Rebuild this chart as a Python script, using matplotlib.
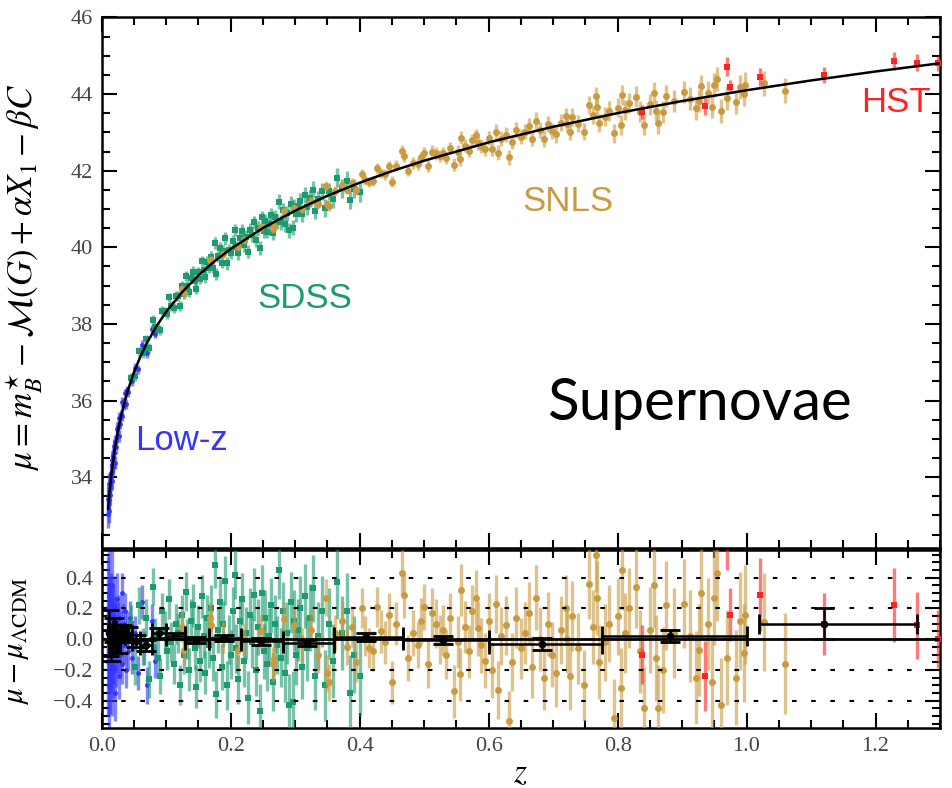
import matplotlib.pyplot as plt
from matplotlib.ticker import MultipleLocator

plt.rcParams['font.family'] = 'Liberation Serif'
plt.rcParams['mathtext.fontset'] = 'stix'

# best-fit LCDM distance modulus
curve_z = [0.01, 0.012, 0.015, 0.02, 0.025, 0.03, 0.04, 0.05, 0.06, 0.07,
           0.085, 0.1, 0.125, 0.15, 0.175, 0.2, 0.25, 0.3, 0.35, 0.4,
           0.45, 0.5, 0.6, 0.7, 0.8, 0.9, 1.0, 1.1, 1.2, 1.3]
curve_mu = [33.175, 33.574, 34.064, 34.697, 35.190, 35.594, 36.234, 36.735, 37.146, 37.496,
            37.940, 38.315, 38.835, 39.266, 39.635, 39.956, 40.502, 40.955, 41.344, 41.685,
            41.988, 42.261, 42.739, 43.147, 43.503, 43.818, 44.100, 44.356, 44.590, 44.805]

# Low-z sample
lowz_z = [0.0100, 0.0102, 0.0108, 0.0112, 0.0118, 0.0121, 0.0126, 0.0131, 0.0135, 0.0142,
          0.0148, 0.0153, 0.0158, 0.0164, 0.0170, 0.0176, 0.0183, 0.0190, 0.0196, 0.0203,
          0.0212, 0.0221, 0.0230, 0.0242, 0.0253, 0.0264, 0.0275, 0.0287, 0.0298, 0.0310,
          0.0322, 0.0335, 0.0348, 0.0362, 0.0378, 0.0395, 0.0412, 0.0440, 0.0475, 0.0520,
          0.0570, 0.0620, 0.0660, 0.0710, 0.0780, 0.0830]
lowz_mu = [33.03, 33.42, 33.39, 33.12, 33.81, 33.54, 33.80, 33.54, 33.85, 34.12,
           33.91, 34.45, 33.89, 34.32, 34.26, 34.56, 34.32, 34.80, 34.63, 34.38,
           34.92, 34.78, 35.26, 35.06, 35.30, 35.07, 35.54, 35.39, 35.62, 35.97,
           35.59, 35.94, 35.88, 36.19, 35.91, 36.27, 36.22, 36.59, 36.50, 36.86,
           36.81, 37.46, 37.30, 37.23, 37.87, 37.74]
lowz_res = [-0.15, 0.20, 0.05, -0.30, 0.28, -0.05, 0.12, -0.22, 0.02, 0.18,
            -0.12, 0.35, -0.28, 0.06, -0.08, 0.15, -0.18, 0.22, -0.02, -0.35,
            0.10, -0.14, 0.26, -0.06, 0.08, -0.24, 0.14, -0.10, 0.04, 0.30,
            -0.16, 0.10, -0.04, 0.18, -0.20, 0.06, -0.08, 0.14, -0.12, 0.04,
            -0.22, 0.24, -0.06, -0.30, 0.12, -0.14]
lowz_err = [0.35, 0.34, 0.32, 0.31, 0.30, 0.29, 0.28, 0.27, 0.26, 0.25,
            0.24, 0.23, 0.22, 0.22, 0.21, 0.20, 0.20, 0.19, 0.19, 0.18,
            0.18, 0.17, 0.17, 0.16, 0.16, 0.15, 0.15, 0.14, 0.14, 0.13,
            0.13, 0.13, 0.12, 0.12, 0.12, 0.12, 0.12, 0.11, 0.11, 0.11,
            0.11, 0.11, 0.11, 0.12, 0.11, 0.11]

# SDSS sample
sdss_z = [0.045, 0.052, 0.058, 0.064, 0.069, 0.074, 0.079, 0.083, 0.087, 0.090,
          0.094, 0.098, 0.101, 0.105, 0.108, 0.112, 0.115, 0.118, 0.121, 0.124,
          0.127, 0.130, 0.133, 0.136, 0.139, 0.142, 0.145, 0.147, 0.150, 0.153,
          0.156, 0.158, 0.161, 0.164, 0.166, 0.169, 0.172, 0.175, 0.177, 0.180,
          0.183, 0.186, 0.188, 0.191, 0.194, 0.197, 0.200, 0.203, 0.206, 0.209,
          0.212, 0.215, 0.218, 0.221, 0.224, 0.227, 0.230, 0.233, 0.236, 0.239,
          0.242, 0.245, 0.248, 0.251, 0.254, 0.257, 0.260, 0.263, 0.266, 0.269,
          0.272, 0.275, 0.278, 0.281, 0.284, 0.287, 0.290, 0.293, 0.296, 0.299,
          0.302, 0.305, 0.308, 0.311, 0.315, 0.319, 0.323, 0.327, 0.331, 0.336,
          0.341, 0.346, 0.352, 0.358, 0.365, 0.372, 0.380, 0.385, 0.392, 0.400]
sdss_mu = [36.60, 36.64, 37.29, 37.24, 37.60, 37.37, 38.11, 37.91, 37.88, 37.83,
           38.35, 38.33, 38.26, 38.69, 38.47, 38.42, 38.74, 38.74, 38.46, 38.98,
           38.77, 39.24, 38.98, 38.83, 39.21, 39.36, 39.13, 38.91, 39.35, 39.17,
           39.64, 39.41, 39.22, 39.62, 39.47, 39.75, 39.47, 40.11, 39.30, 39.76,
           39.98, 39.60, 39.91, 40.23, 39.58, 39.92, 39.86, 40.17, 40.45, 40.01,
           39.84, 40.25, 40.43, 40.06, 40.27, 39.89, 40.46, 40.31, 40.65, 40.19,
           40.50, 39.98, 40.78, 40.43, 40.68, 40.41, 40.62, 40.85, 40.38, 40.79,
           40.67, 41.19, 40.65, 40.97, 40.60, 40.89, 40.44, 41.14, 40.51, 41.07,
           40.87, 41.06, 41.22, 40.87, 41.36, 41.05, 41.28, 41.50, 40.96, 41.26,
           41.46, 41.02, 41.46, 41.26, 41.82, 41.54, 41.73, 41.24, 41.53, 41.44]
sdss_res = [0.10, -0.18, 0.22, -0.05, 0.14, -0.26, 0.34, 0.02, -0.12, -0.24,
            0.18, 0.06, -0.08, 0.26, -0.02, -0.16, 0.10, 0.04, -0.30, 0.16,
            -0.10, 0.31, 0.00, -0.20, 0.12, 0.22, -0.06, -0.31, 0.08, -0.14,
            0.28, 0.02, -0.22, 0.14, -0.04, 0.20, -0.12, 0.48, -0.36, 0.06,
            0.24, -0.18, 0.10, 0.38, -0.30, 0.00, -0.10, 0.18, 0.42, -0.06,
            -0.26, 0.12, 0.26, -0.14, 0.04, -0.38, 0.16, -0.02, 0.29, -0.20,
            0.08, -0.47, 0.30, -0.08, 0.14, -0.16, 0.02, 0.22, -0.28, 0.10,
            -0.04, 0.45, -0.12, 0.18, -0.22, 0.04, -0.43, 0.24, -0.41, 0.12,
            -0.10, 0.06, 0.20, -0.18, 0.28, -0.06, 0.14, 0.33, -0.24, 0.02,
            0.18, -0.30, 0.10, -0.14, 0.37, 0.04, 0.18, -0.35, -0.10, -0.24]
sdss_err = [0.12, 0.12, 0.12, 0.12, 0.12, 0.12, 0.12, 0.12, 0.12, 0.12,
            0.12, 0.12, 0.12, 0.13, 0.13, 0.13, 0.13, 0.13, 0.13, 0.13,
            0.13, 0.13, 0.13, 0.14, 0.14, 0.14, 0.14, 0.14, 0.14, 0.14,
            0.14, 0.14, 0.14, 0.15, 0.15, 0.15, 0.15, 0.15, 0.15, 0.15,
            0.15, 0.15, 0.15, 0.16, 0.16, 0.16, 0.16, 0.16, 0.16, 0.16,
            0.16, 0.16, 0.17, 0.17, 0.17, 0.17, 0.17, 0.17, 0.17, 0.17,
            0.18, 0.18, 0.18, 0.18, 0.18, 0.18, 0.18, 0.18, 0.19, 0.19,
            0.19, 0.19, 0.19, 0.19, 0.19, 0.20, 0.20, 0.20, 0.20, 0.20,
            0.20, 0.20, 0.21, 0.21, 0.21, 0.21, 0.22, 0.22, 0.22, 0.22,
            0.23, 0.23, 0.23, 0.24, 0.24, 0.24, 0.25, 0.25, 0.25, 0.26]

# SNLS sample
snls_z = [0.125, 0.128, 0.168, 0.170, 0.188, 0.211, 0.221, 0.247, 0.265, 0.268,
          0.283, 0.298, 0.310, 0.324, 0.335, 0.348, 0.350, 0.352, 0.362, 0.372,
          0.380, 0.388, 0.395, 0.404, 0.408, 0.414, 0.420, 0.427, 0.433, 0.440,
          0.446, 0.450, 0.457, 0.466, 0.469, 0.475, 0.482, 0.490, 0.495, 0.500,
          0.506, 0.513, 0.518, 0.524, 0.530, 0.534, 0.540, 0.547, 0.552, 0.555,
          0.557, 0.563, 0.570, 0.575, 0.580, 0.583, 0.588, 0.594, 0.600, 0.606,
          0.611, 0.614, 0.620, 0.627, 0.632, 0.637, 0.643, 0.650, 0.656, 0.663,
          0.668, 0.673, 0.680, 0.686, 0.692, 0.698, 0.705, 0.712, 0.720, 0.722,
          0.727, 0.730, 0.738, 0.748, 0.756, 0.762, 0.766, 0.768, 0.771, 0.780,
          0.787, 0.795, 0.800, 0.805, 0.807, 0.812, 0.818, 0.828, 0.835, 0.841,
          0.850, 0.857, 0.859, 0.862, 0.870, 0.875, 0.888, 0.903, 0.913, 0.921,
          0.926, 0.929, 0.940, 0.947, 0.949, 0.954, 0.960, 0.970, 0.983, 0.990,
          0.996, 0.998, 1.027, 1.059]
snls_mu = [38.92, 38.82, 39.68, 39.66, 39.82, 40.02, 40.20, 40.52, 40.49, 40.55,
           40.94, 41.03, 41.00, 41.21, 41.13, 41.60, 41.12, 41.08, 41.47, 41.62,
           41.50, 41.69, 41.50, 41.91, 41.75, 41.71, 41.73, 42.06, 41.94, 41.91,
           42.12, 41.71, 42.13, 42.51, 42.38, 42.00, 42.20, 42.17, 42.35, 42.47,
           42.13, 42.50, 42.45, 42.38, 42.47, 42.33, 42.60, 42.15, 42.50, 42.30,
           42.86, 42.65, 42.52, 42.80, 42.92, 42.73, 42.64, 42.57, 42.86, 42.56,
           43.02, 42.47, 42.84, 42.94, 42.35, 42.75, 43.06, 42.89, 43.02, 43.17,
           42.84, 43.31, 43.07, 42.84, 43.22, 43.04, 42.95, 43.25, 43.42, 43.23,
           43.01, 43.41, 43.23, 43.02, 43.71, 43.45, 43.94, 43.66, 43.25, 43.41,
           43.56, 42.98, 43.65, 43.20, 43.98, 43.58, 43.76, 43.93, 43.54, 43.19,
           43.73, 44.04, 43.57, 43.25, 43.53, 43.96, 43.82, 44.06, 43.88, 43.63,
           43.82, 44.20, 44.03, 43.67, 44.23, 44.40, 43.56, 43.90, 43.80, 44.19,
           44.00, 44.25, 44.28, 44.09]
snls_res = [0.08, -0.07, 0.14, 0.09, 0.01, -0.07, 0.00, 0.05, -0.16, -0.13,
            0.13, 0.09, -0.04, 0.06, -0.10, 0.27, -0.22, -0.28, 0.04, 0.12,
            -0.05, 0.08, -0.15, 0.20, 0.02, -0.06, -0.08, 0.21, 0.05, -0.02,
            0.16, -0.28, 0.10, 0.43, 0.29, -0.12, 0.04, -0.04, 0.12, 0.21,
            -0.16, 0.17, 0.10, 0.00, 0.06, -0.10, 0.14, -0.34, -0.02, -0.23,
            0.32, 0.08, -0.08, 0.18, 0.27, 0.07, -0.04, -0.14, 0.12, -0.20,
            0.23, -0.33, 0.02, 0.09, -0.53, -0.15, 0.14, -0.06, 0.04, 0.17,
            -0.18, 0.27, 0.00, -0.25, 0.10, -0.10, -0.22, 0.06, 0.20, 0.00,
            -0.24, 0.15, -0.06, -0.30, 0.36, 0.08, 0.55, 0.27, -0.15, -0.02,
            0.10, -0.51, 0.15, -0.32, 0.45, 0.04, 0.20, 0.34, -0.08, -0.45,
            0.06, 0.35, -0.12, -0.45, -0.20, 0.22, 0.04, 0.23, 0.02, -0.25,
            -0.07, 0.30, 0.10, -0.28, 0.27, 0.43, -0.43, -0.12, -0.25, 0.12,
            -0.09, 0.16, 0.11, -0.16]
snls_err = [0.10, 0.10, 0.10, 0.10, 0.10, 0.10, 0.10, 0.11, 0.11, 0.11,
            0.11, 0.11, 0.11, 0.12, 0.12, 0.12, 0.12, 0.12, 0.12, 0.12,
            0.12, 0.13, 0.13, 0.13, 0.13, 0.13, 0.13, 0.13, 0.14, 0.14,
            0.14, 0.14, 0.14, 0.15, 0.15, 0.15, 0.15, 0.15, 0.15, 0.15,
            0.16, 0.16, 0.16, 0.16, 0.16, 0.16, 0.16, 0.17, 0.17, 0.17,
            0.17, 0.17, 0.17, 0.17, 0.18, 0.18, 0.18, 0.18, 0.18, 0.18,
            0.19, 0.19, 0.19, 0.19, 0.19, 0.19, 0.20, 0.20, 0.20, 0.20,
            0.20, 0.21, 0.21, 0.21, 0.21, 0.21, 0.22, 0.22, 0.22, 0.22,
            0.22, 0.23, 0.23, 0.23, 0.23, 0.24, 0.24, 0.24, 0.24, 0.25,
            0.25, 0.25, 0.25, 0.26, 0.26, 0.26, 0.26, 0.27, 0.27, 0.27,
            0.28, 0.28, 0.28, 0.28, 0.28, 0.29, 0.29, 0.29, 0.30, 0.30,
            0.30, 0.30, 0.30, 0.30, 0.31, 0.31, 0.31, 0.31, 0.31, 0.32,
            0.32, 0.32, 0.32, 0.33]

# HST sample
hst_z = [0.838, 0.935, 0.969, 0.974, 1.021, 1.120, 1.229, 1.264, 1.297]
hst_mu = [43.53, 43.68, 44.72, 44.19, 44.45, 44.50, 44.87, 44.82, 44.80]
hst_res = [-0.10, -0.24, 0.70, 0.16, 0.29, 0.10, 0.22, 0.09, 0.00]
hst_err = [0.19, 0.23, 0.25, 0.17, 0.24, 0.20, 0.24, 0.22, 0.19]

# binned residuals
bin_z = [0.0114, 0.0149, 0.0193, 0.0248, 0.0317, 0.0411, 0.0531, 0.0685, 0.0883, 0.1136,
         0.1468, 0.1899, 0.2464, 0.3185, 0.4106, 0.5298, 0.6829, 0.8809, 1.120]
bin_lo = [0.010, 0.013, 0.017, 0.022, 0.028, 0.036, 0.047, 0.060, 0.078, 0.100,
          0.129, 0.167, 0.216, 0.281, 0.361, 0.467, 0.601, 0.776, 1.020]
bin_hi = [0.013, 0.017, 0.022, 0.028, 0.036, 0.047, 0.060, 0.078, 0.100, 0.129,
          0.167, 0.216, 0.281, 0.361, 0.467, 0.601, 0.776, 1.000, 1.265]
bin_res = [0.04, -0.04, 0.06, -0.02, 0.04, 0.03, -0.01, -0.04, 0.04, 0.02,
           -0.005, 0.005, -0.015, -0.025, 0.015, -0.005, -0.03, 0.02, 0.10]
bin_err = [0.15, 0.10, 0.08, 0.07, 0.05, 0.05, 0.04, 0.035, 0.03, 0.02,
           0.02, 0.02, 0.02, 0.02, 0.025, 0.025, 0.04, 0.04, 0.10]

c_lowz = '#3535ff'
c_sdss = '#1c9a70'
c_snls = '#c99b40'
c_hst = '#ff2424'

samples = [
    (lowz_z, lowz_mu, lowz_res, lowz_err, c_lowz, 'o', 3.5),
    (sdss_z, sdss_mu, sdss_res, sdss_err, c_sdss, 's', 4.5),
    (snls_z, snls_mu, snls_res, snls_err, c_snls, 'o', 5.0),
    (hst_z, hst_mu, hst_res, hst_err, c_hst, 's', 4.0),
]

fig = plt.figure(figsize=(9.52, 7.88), dpi=100)
ax1 = fig.add_axes([0.1068, 0.3046, 0.8806, 0.6732])
ax2 = fig.add_axes([0.1068, 0.0758, 0.8806, 0.2262])

for i, (z, mu, res, err, col, mk, ms) in enumerate(samples):
    zo = 2 + i
    ax1.errorbar(z, mu, yerr=err, fmt='none', ecolor=col, elinewidth=2.4,
                 alpha=0.6, zorder=zo)
    ax1.plot(z, mu, mk, color=col, ms=ms, mew=0, zorder=zo)
    ax2.errorbar(z, res, yerr=err, fmt='none', ecolor=col, elinewidth=2.4,
                 alpha=0.6, zorder=zo)
    ax2.plot(z, res, mk, color=col, ms=ms, mew=0, zorder=zo)

ax1.plot(curve_z, curve_mu, color='black', lw=1.8, zorder=10)

# residual panel decorations
for yv in [-0.4, -0.2, 0.2, 0.4]:
    ax2.axhline(yv, color='black', lw=1.5, ls=(0, (2.2, 7)), zorder=8)
ax2.axhline(0.0, color='black', lw=2.0, zorder=9)
xerr = [[c - lo for c, lo in zip(bin_z, bin_lo)],
        [hi - c for c, hi in zip(bin_z, bin_hi)]]
ax2.errorbar(bin_z, bin_res, yerr=bin_err, xerr=xerr, fmt='o', color='black',
             ms=4.5, elinewidth=1.8, capsize=7, capthick=2.0, zorder=11)

# labels
ax1.text(0.0515, 34.72, 'Low-z', color=c_lowz, fontsize=25, family='Liberation Sans')
ax1.text(0.242, 38.41, 'SDSS', color=c_sdss, fontsize=25, family='Liberation Sans')
ax1.text(0.652, 40.96, 'SNLS', color=c_snls, fontsize=25, family='Liberation Sans')
ax1.text(1.177, 43.54, 'HST', color=c_hst, fontsize=25, family='Liberation Sans')
ax1.text(0.691, 35.50, 'Supernovae', color='black', fontsize=42, family='Lato')

ax1.set_xlim(0, 1.3)
ax1.set_ylim(32.15, 46)
ax2.set_xlim(0, 1.3)
ax2.set_ylim(-0.58, 0.58)

ax1.xaxis.set_major_locator(MultipleLocator(0.2))
ax1.xaxis.set_minor_locator(MultipleLocator(0.05))
ax1.yaxis.set_major_locator(MultipleLocator(2))
ax1.yaxis.set_minor_locator(MultipleLocator(0.5))
ax2.xaxis.set_major_locator(MultipleLocator(0.2))
ax2.xaxis.set_minor_locator(MultipleLocator(0.05))
ax2.yaxis.set_major_locator(MultipleLocator(0.2))
ax2.yaxis.set_minor_locator(MultipleLocator(0.05))
ax1.tick_params(labelbottom=False)

for ax in (ax1, ax2):
    ax.tick_params(which='both', direction='in', top=True, right=True,
                   width=1.5, labelsize=16, labelcolor='#444444')
    ax.tick_params(which='major', length=10.5, pad=6)
    ax.tick_params(which='minor', length=5.5)
    for s in ax.spines.values():
        s.set_linewidth(1.8)

ax1.set_ylabel(r'$\mu = m_B^{\star} - \mathcal{M}(G) + \alpha X_1 - \beta C$',
               fontsize=25)
ax1.yaxis.set_label_coords(-0.068, 0.51)
ax2.set_ylabel(r'$\mu - \mu_{\Lambda\mathrm{CDM}}$', fontsize=22)
ax2.yaxis.set_label_coords(-0.084, 0.49)
ax2.set_xlabel(r'$z$', fontsize=24, labelpad=2)

fig.savefig('out.png', dpi=100)
